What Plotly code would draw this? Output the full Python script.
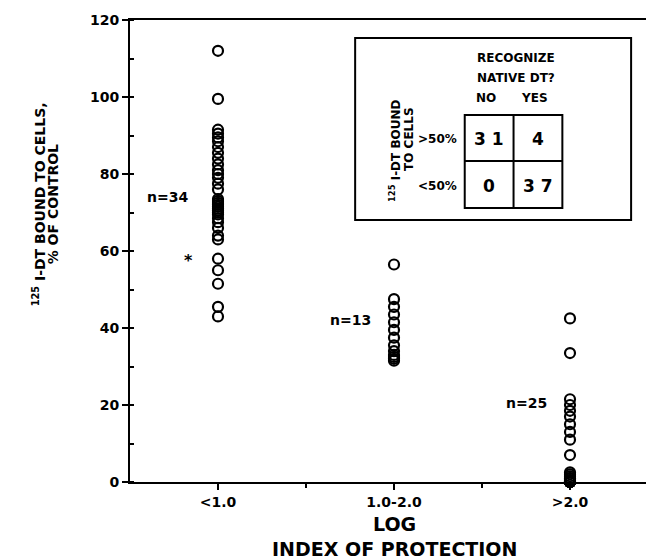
import plotly.graph_objects as go

# ---- data ----
categories = ["<1.0", "1.0-2.0", ">2.0"]
cat_pos = [1, 2, 3]
group_lt1 = [112, 99.5, 91.5, 90.5, 89.5, 88.5, 87, 85.5, 84, 82.5, 81, 80, 79,
             77.5, 76, 73.5, 73, 72.5, 72, 71.5, 71, 70.5, 70, 69.5, 68.5, 67.5,
             66, 64, 63, 58, 55, 51.5, 45.5, 43]
group_1to2 = [56.5, 47.5, 45.5, 43.5, 41.5, 39.5, 37.5, 35.5, 34, 33, 32.5, 32, 31.5]
group_gt2 = [42.5, 33.5, 21.5, 20, 18.5, 17, 15, 13, 11, 7, 2.5, 2, 1.5, 1, 1,
             0.5, 0.5, 0, 0, 0, 0, 0, 0, 0, 0]
groups = [group_lt1, group_1to2, group_gt2]
n_labels = ["n=34", "n=13", "n=25"]
table_rows = [">50%", "<50%"]
table_cols = ["NO", "YES"]
table_vals = [[31, 4], [0, 37]]

FONT = "DejaVu Sans, Liberation Sans, Arial, sans-serif"

def f(size):
    return dict(size=size, family=FONT, weight="bold", color="black")

fig = go.Figure()
for pos, vals in zip(cat_pos, groups):
    fig.add_trace(go.Scatter(
        x=[pos] * len(vals), y=vals, mode="markers", cliponaxis=False,
        marker=dict(symbol="circle-open", size=10, color="black",
                    line=dict(width=2.2, color="black")),
        showlegend=False, hoverinfo="y"))

L, R, T, B = 122, 652, 12, 474
def px(x):
    return (x - L) / (R - L)
def py(y):
    return (B - y) / (B - T)

ann = []
def add_px(x, y, text, font, angle=0):
    ann.append(dict(x=px(x), y=py(y), xref="paper", yref="paper", text=text,
                    showarrow=False, xanchor="center", yanchor="middle",
                    textangle=angle, font=font))

# n labels (data coords)
for lab, (x, y) in zip(n_labels, [(0.715, 74), (1.75, 42), (2.75, 20.5)]):
    ann.append(dict(x=x, y=y, xref="x", yref="y", text=lab, showarrow=False,
                    xanchor="center", yanchor="middle", font=f(14)))
ann.append(dict(x=0.83, y=57.5, xref="x", yref="y", text="*", showarrow=False,
                xanchor="center", yanchor="middle", font=f(16)))

# axis titles
add_px(387, 516, "LOG", f(19))
add_px(387, 541, "INDEX OF PROTECTION", f(19))
add_px(31, 196, "<sup>125</sup> I-DT BOUND TO CELLS,", f(14), -90)
add_px(45, 196, "% OF CONTROL", f(14), -90)

# inset box
bx0, bx1, by0, by1 = 348, 625, 30, 212
tx0, tx1, tmid = 458, 556, 507
ty0, ty1, tymid = 107, 200, 153
shapes = [
    dict(type="rect", xref="paper", yref="paper", x0=px(bx0), x1=px(bx1),
         y0=py(by1), y1=py(by0), line=dict(color="black", width=2),
         fillcolor="white", layer="above"),
    dict(type="rect", xref="paper", yref="paper", x0=px(tx0), x1=px(tx1),
         y0=py(ty1), y1=py(ty0), line=dict(color="black", width=2), layer="above"),
    dict(type="line", xref="paper", yref="paper", x0=px(tmid), x1=px(tmid),
         y0=py(ty1), y1=py(ty0), line=dict(color="black", width=2), layer="above"),
    dict(type="line", xref="paper", yref="paper", x0=px(tx0), x1=px(tx1),
         y0=py(tymid), y1=py(tymid), line=dict(color="black", width=2), layer="above"),
]

add_px(tmid + 2, 50, "RECOGNIZE", f(12))
add_px(tmid + 2, 70, "NATIVE DT?", f(12))
cell_x = [(tx0 + tmid) / 2, (tmid + tx1) / 2]
cell_y = [(ty0 + tymid) / 2 + 1, (tymid + ty1) / 2 + 1]
for lab, x in zip(table_cols, cell_x):
    add_px(x - 3, 90, lab, f(12))
for lab, y in zip(table_rows, cell_y):
    add_px(431, y, lab, f(12))
for i, row in enumerate(table_vals):
    for j, v in enumerate(row):
        add_px(cell_x[j], cell_y[i], " ".join(str(v)) if v >= 10 else str(v), f(17))
add_px(388, 142, "<sup>125</sup> I-DT BOUND", f(12), -90)
add_px(402, 131, "TO CELLS", f(12), -90)

fig.update_layout(
    width=654, height=560,
    margin=dict(l=L, r=654 - R, t=T, b=560 - B),
    plot_bgcolor="white", paper_bgcolor="white",
    font=dict(family=FONT, color="black", size=14, weight="bold"),
    annotations=ann, shapes=shapes,
    xaxis=dict(range=[0.5, 3.5], tickvals=cat_pos, ticktext=categories,
               ticks="outside", ticklen=6, tickwidth=2, tickcolor="black",
               showline=True, linewidth=2, linecolor="black", mirror=True,
               showgrid=False, zeroline=False, tickfont=f(14),
               minor=dict(tickvals=[1.5, 2.5], ticks="outside", ticklen=4,
                          tickwidth=2, tickcolor="black")),
    yaxis=dict(range=[0, 120], dtick=20, ticks="outside", ticklen=6, tickwidth=2,
               tickcolor="black", showline=True, linewidth=2, linecolor="black",
               mirror=True, showgrid=False, zeroline=False, tickfont=f(14),
               minor=dict(dtick=10, ticks="inside", ticklen=4, tickwidth=2,
                          tickcolor="black")),
)

fig.write_html("out.html")
